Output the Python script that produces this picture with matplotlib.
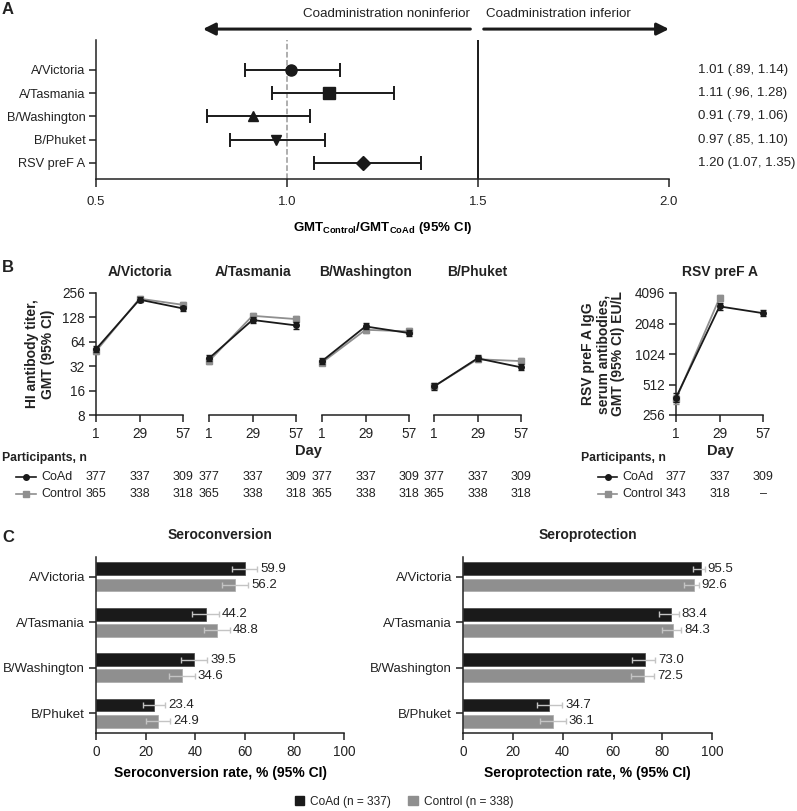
import numpy as np
import matplotlib
matplotlib.use('Agg')
import matplotlib.pyplot as plt
from matplotlib.patches import Patch
from matplotlib.lines import Line2D
from matplotlib import transforms

plt.rcParams['font.family'] = ['Liberation Sans', 'DejaVu Sans']
plt.rcParams['mathtext.fontset'] = 'custom'
plt.rcParams['mathtext.rm'] = 'Liberation Sans'
plt.rcParams['mathtext.bf'] = 'Liberation Sans:bold'
plt.rcParams['font.size'] = 9.5
plt.rcParams['axes.linewidth'] = 1.1
plt.rcParams['xtick.major.width'] = 1.1
plt.rcParams['ytick.major.width'] = 1.1
plt.rcParams['xtick.major.size'] = 4
plt.rcParams['ytick.major.size'] = 4
plt.rcParams['text.color'] = '#222222'
plt.rcParams['axes.edgecolor'] = '#222222'
plt.rcParams['xtick.color'] = '#222222'
plt.rcParams['ytick.color'] = '#222222'

# ---- panel A data
antigens = ['A/Victoria', 'A/Tasmania', 'B/Washington', 'B/Phuket', 'RSV preF A']
gmr = [1.01, 1.11, 0.91, 0.97, 1.20]
gmr_lo = [0.89, 0.96, 0.79, 0.85, 1.07]
gmr_hi = [1.14, 1.28, 1.06, 1.10, 1.35]
gmr_text = ['1.01 (.89, 1.14)', '1.11 (.96, 1.28)', '0.91 (.79, 1.06)',
            '0.97 (.85, 1.10)', '1.20 (1.07, 1.35)']

# ---- panel B data
strains = ['A/Victoria', 'A/Tasmania', 'B/Washington', 'B/Phuket']
days = [1, 29, 57]
hi_coad = [[52, 212, 165], [40, 119, 102], [37, 99, 82], [18, 40, 31]]
hi_coad_lo = [[48, 199, 152], [37, 110, 93], [34, 91, 75], [16.5, 37, 28.5]]
hi_coad_hi = [[57, 226, 179], [44, 129, 112], [40, 108, 90], [19.6, 44, 34]]
hi_ctrl = [[49, 218, 183], [37, 134, 122], [35.5, 90, 86], [18, 39, 37]]
hi_ctrl_lo = [[45, 205, 168], [34, 124, 111], [33, 83, 79], [16.6, 36, 34]]
hi_ctrl_hi = [[53, 232, 199], [40, 145, 134], [38.5, 98, 94], [19.5, 42, 40]]
n_coad = ['377', '337', '309']
n_ctrl = ['365', '338', '318']

rsv_coad = [380, 3020, 2590]
rsv_coad_lo = [345, 2800, 2420]
rsv_coad_hi = [420, 3260, 2780]
rsv_days_ctrl = [1, 29]
rsv_ctrl = [366, 3650]
rsv_ctrl_lo = [332, 3380]
rsv_ctrl_hi = [404, 3950]
rsv_n_coad = ['377', '337', '309']
rsv_n_ctrl = ['343', '318', '\u2013']

# ---- panel C data
flu = ['A/Victoria', 'A/Tasmania', 'B/Washington', 'B/Phuket']
sc_coad = [59.9, 44.2, 39.5, 23.4]
sc_coad_lo = [54.7, 38.9, 34.3, 19.0]
sc_coad_hi = [65.0, 49.5, 44.8, 28.0]
sc_ctrl = [56.2, 48.8, 34.6, 24.9]
sc_ctrl_lo = [51.0, 43.5, 29.5, 20.3]
sc_ctrl_hi = [61.4, 54.0, 39.8, 29.8]
sp_coad = [95.5, 83.4, 73.0, 34.7]
sp_coad_lo = [92.4, 78.7, 67.8, 29.6]
sp_coad_hi = [97.0, 86.7, 77.2, 39.9]
sp_ctrl = [92.6, 84.3, 72.5, 36.1]
sp_ctrl_lo = [88.9, 79.9, 67.4, 30.9]
sp_ctrl_hi = [94.6, 87.6, 76.8, 41.2]

W, H = 797, 811
fig = plt.figure(figsize=(W / 100, H / 100), dpi=100)


def box(x0, y0, x1, y1):
    return [x0 / W, 1 - y1 / H, (x1 - x0) / W, (y1 - y0) / H]


def fy(y):
    return 1 - y / H


black = '#1a1a1a'
grey = '#8f8f8f'
light = '#c4c4c4'

# ================= A
axa = fig.add_axes(box(96, 40, 669, 179))
markers = ['o', 's', '^', 'v', 'D']
msizes = [8, 8, 7.5, 7.5, 7]
for i in range(len(antigens)):
    axa.errorbar(gmr[i], i, xerr=[[gmr[i] - gmr_lo[i]], [gmr_hi[i] - gmr[i]]],
                 fmt=markers[i], ms=msizes[i], color=black, ecolor=black,
                 elinewidth=1.4, capsize=5, capthick=1.4)
    axa.text(2.076, i, gmr_text[i], va='center', ha='left', fontsize=9.5, clip_on=False)
axa.axvline(1.0, color='#999999', ls='--', lw=1.1, zorder=0)
axa.axvline(1.5, color=black, lw=1.4)
axa.set_xlim(0.5, 2.0)
axa.set_ylim(4.69, -1.29)
axa.set_yticks(range(len(antigens)))
axa.set_yticklabels(antigens, fontsize=9.2)
axa.set_xticks([0.5, 1.0, 1.5, 2.0])
axa.set_xticklabels(['0.5', '1.0', '1.5', '2.0'], fontsize=9.5)
axa.tick_params(axis='x', pad=6, length=6)
axa.tick_params(axis='y', pad=2.5, length=5)
for s in ['top', 'right']:
    axa.spines[s].set_visible(False)
axa.set_xlabel(r'$\mathbf{GMT_{Control}/GMT_{CoAd}\ (95\%\ CI)}$', fontsize=9.5, labelpad=9)
arr_y = -1.76
axa.annotate('', xy=(0.78, arr_y), xytext=(1.48, arr_y), annotation_clip=False,
             arrowprops=dict(arrowstyle='-|>', lw=2.2, color=black, mutation_scale=18,
                             shrinkA=0, shrinkB=0))
axa.annotate('', xy=(2.0, arr_y), xytext=(1.515, arr_y), annotation_clip=False,
             arrowprops=dict(arrowstyle='-|>', lw=2.2, color=black, mutation_scale=18,
                             shrinkA=0, shrinkB=0))
axa.text(1.478, -2.42, 'Coadministration noninferior', ha='right', va='center',
         fontsize=9.6, clip_on=False)
axa.text(1.52, -2.42, 'Coadministration inferior', ha='left', va='center',
         fontsize=9.6, clip_on=False)
fig.text(2 / W, fy(10), 'A', fontsize=12, fontweight='bold', va='center')

# ================= B
fig.text(2 / W, fy(268), 'B', fontsize=12, fontweight='bold', va='center')
xs_b = [(96, 183), (209, 296), (322, 409), (434, 521)]
y_coad_row, y_ctrl_row = 477, 494


def style_b(ax, show_y):
    for s in ['top', 'right']:
        ax.spines[s].set_visible(False)
    if not show_y:
        ax.spines['left'].set_visible(False)
        ax.tick_params(axis='y', left=False, labelleft=False)
    ax.set_xlim(1, 57)
    ax.set_xticks(days)
    ax.set_xticklabels([str(d) for d in days], fontsize=9.8)
    ax.tick_params(axis='x', length=5, pad=4)
    ax.tick_params(axis='y', length=5, pad=3, labelsize=9.8)


def draw_series(ax, x, y, lo, hi, color, marker, ms, z):
    y = np.array(y, dtype=float)
    err = [y - np.array(lo), np.array(hi) - y]
    ax.errorbar(x, y, yerr=err, color=color, marker=marker, ms=ms, lw=1.3,
                elinewidth=1.0, capsize=2, capthick=1.0, zorder=z, clip_on=False)


for k, s in enumerate(strains):
    x0, x1 = xs_b[k]
    ax = fig.add_axes(box(x0, 293, x1, 415))
    ax.set_yscale('log', base=2)
    ax.set_ylim(8, 256)
    draw_series(ax, days, hi_ctrl[k], hi_ctrl_lo[k], hi_ctrl_hi[k], grey, 's', 4, 3)
    draw_series(ax, days, hi_coad[k], hi_coad_lo[k], hi_coad_hi[k], black, 'o', 4, 4)
    ax.set_yticks([8, 16, 32, 64, 128, 256])
    ax.set_yticklabels(['8', '16', '32', '64', '128', '256'])
    ax.minorticks_off()
    style_b(ax, k == 0)
    ax.set_title(s, fontsize=10, fontweight='bold', pad=12)
    tr = transforms.blended_transform_factory(ax.transData, fig.transFigure)
    for j, d in enumerate(days):
        ax.text(d, fy(y_coad_row), n_coad[j], transform=tr, ha='center', va='center', fontsize=9)
        ax.text(d, fy(y_ctrl_row), n_ctrl[j], transform=tr, ha='center', va='center', fontsize=9)

fig.text(40 / W, fy(354), 'HI antibody titer,\nGMT (95% CI)', rotation=90, ha='center',
         va='center', fontsize=10, fontweight='bold', linespacing=1.15)
fig.text(308 / W, fy(451), 'Day', ha='center', va='center', fontsize=10.5, fontweight='bold')

axr = fig.add_axes(box(676, 293, 763, 415))
axr.set_yscale('log', base=2)
axr.set_ylim(256, 4096)
draw_series(axr, rsv_days_ctrl, rsv_ctrl, rsv_ctrl_lo, rsv_ctrl_hi, grey, 's', 4, 3)
draw_series(axr, days, rsv_coad, rsv_coad_lo, rsv_coad_hi, black, 'o', 4, 4)
axr.set_yticks([256, 512, 1024, 2048, 4096])
axr.set_yticklabels(['256', '512', '1024', '2048', '4096'])
axr.minorticks_off()
style_b(axr, True)
axr.set_title('RSV preF A', fontsize=10, fontweight='bold', pad=12)
fig.text(603 / W, fy(354), 'RSV preF A IgG\nserum antibodies,\nGMT (95% CI) EU/L',
         rotation=90, ha='center', va='center', fontsize=10, fontweight='bold',
         linespacing=1.1)
fig.text(720 / W, fy(451), 'Day', ha='center', va='center', fontsize=10.5, fontweight='bold')
trr = transforms.blended_transform_factory(axr.transData, fig.transFigure)
for j, d in enumerate(days):
    axr.text(d, fy(y_coad_row), rsv_n_coad[j], transform=trr, ha='center', va='center', fontsize=9)
    axr.text(d, fy(y_ctrl_row), rsv_n_ctrl[j], transform=trr, ha='center', va='center', fontsize=9)

# participants legends
for xl in [2, 581]:
    fig.text(xl / W, fy(458), 'Participants, n', fontsize=8.8, fontweight='bold', va='center')
for xa, xb, xt in [(16, 36, 41), (598, 617, 622)]:
    fig.add_artist(Line2D([xa / W, (xa + xb) / 2 / W, xb / W], [fy(y_coad_row)] * 3,
                          color=black, lw=1.2, marker='o', ms=4, markevery=[1]))
    fig.add_artist(Line2D([xa / W, (xa + xb) / 2 / W, xb / W], [fy(y_ctrl_row)] * 3,
                          color=grey, lw=1.2, marker='s', ms=4, markevery=[1]))
    fig.text(xt / W, fy(y_coad_row), 'CoAd', va='center', fontsize=9)
    fig.text(xt / W, fy(y_ctrl_row), 'Control', va='center', fontsize=9)

# ================= C
fig.text(2 / W, fy(538), 'C', fontsize=12, fontweight='bold', va='center')


def bars(ax, c, c_lo, c_hi, g, g_lo, g_hi, title, xlabel):
    y = np.arange(len(flu))
    c = np.array(c); g = np.array(g)
    ax.barh(y - 0.18, c, height=0.28, color=black, edgecolor='#444444', lw=0.5,
            xerr=[c - np.array(c_lo), np.array(c_hi) - c],
            error_kw=dict(ecolor=light, elinewidth=1.0, capsize=2.5, capthick=1.0))
    ax.barh(y + 0.18, g, height=0.28, color=grey, edgecolor='#a8a8a8', lw=0.5,
            xerr=[g - np.array(g_lo), np.array(g_hi) - g],
            error_kw=dict(ecolor=light, elinewidth=1.0, capsize=2.5, capthick=1.0))
    for i in range(len(flu)):
        ax.text(c_hi[i] + 1.2, y[i] - 0.18, f'{c[i]:.1f}', va='center', ha='left', fontsize=9.5)
        ax.text(g_hi[i] + 1.2, y[i] + 0.18, f'{g[i]:.1f}', va='center', ha='left', fontsize=9.5)
    ax.set_ylim(3.44, -0.44)
    ax.set_xlim(0, 100)
    ax.set_xticks([0, 20, 40, 60, 80, 100])
    ax.set_yticks(y)
    ax.set_yticklabels(flu, fontsize=9.5)
    ax.tick_params(axis='x', labelsize=9.8, length=5, pad=4)
    ax.tick_params(axis='y', length=5, pad=3)
    for s in ['top', 'right']:
        ax.spines[s].set_visible(False)
    ax.set_title(title, fontsize=10, fontweight='bold', pad=13)
    ax.set_xlabel(xlabel, fontsize=10, fontweight='bold', labelpad=5)


ax_sc = fig.add_axes(box(96, 557, 344, 733))
bars(ax_sc, sc_coad, sc_coad_lo, sc_coad_hi, sc_ctrl, sc_ctrl_lo, sc_ctrl_hi,
     'Seroconversion', 'Seroconversion rate, % (95% CI)')
ax_sp = fig.add_axes(box(463, 557, 712, 733))
bars(ax_sp, sp_coad, sp_coad_lo, sp_coad_hi, sp_ctrl, sp_ctrl_lo, sp_ctrl_hi,
     'Seroprotection', 'Seroprotection rate, % (95% CI)')

handles = [Patch(color=black, label='CoAd (n = 337)'), Patch(color=grey, label='Control (n = 338)')]
fig.legend(handles=handles, loc='center', bbox_to_anchor=(404 / W, fy(802)), ncol=2,
           frameon=False, handlelength=0.8, handleheight=0.8, handletextpad=0.5,
           columnspacing=1.4, fontsize=8.6)

fig.savefig('out.png', dpi=100)
